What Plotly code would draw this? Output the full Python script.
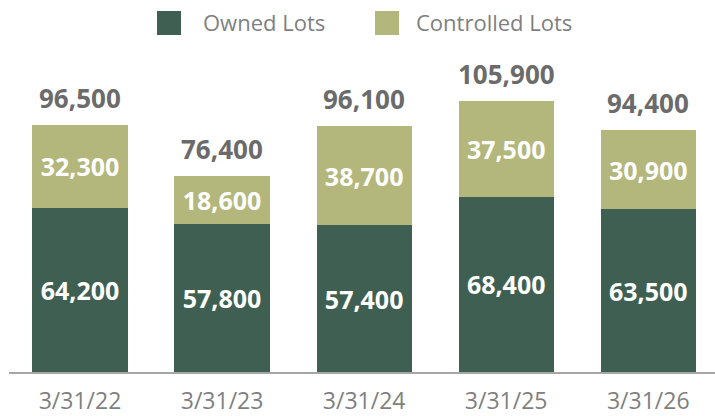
import plotly.graph_objects as go

categories = ["3/31/22", "3/31/23", "3/31/24", "3/31/25", "3/31/26"]
owned = [64200, 57800, 57400, 68400, 63500]
controlled = [32300, 18600, 38700, 37500, 30900]
totals = [96500, 76400, 96100, 105900, 94400]
series_names = ["Owned Lots", "Controlled Lots"]

OWN_C = "#3F5F52"
CTL_C = "#B3B77B"
FONT = "Open Sans"

W, H = 715, 416
ML, MR, MT, MB = 9, 0, 50, 44


def fmt(v):
    return f"{v:,}"


def px_x(p):
    return (p - ML) / (W - ML - MR)


def px_y(p):
    return (H - MB - p) / (H - MT - MB)


fig = go.Figure()
fig.add_bar(x=categories, y=owned, marker_color=OWN_C, name=series_names[0],
            text=[fmt(v) for v in owned], textposition="inside",
            insidetextanchor="middle",
            textfont=dict(family=FONT, size=25, color="white", weight="bold"),
            marker_line_width=0, showlegend=False)
fig.add_bar(x=categories, y=controlled, marker_color=CTL_C, name=series_names[1],
            text=[fmt(v) for v in controlled], textposition="inside",
            insidetextanchor="middle",
            textfont=dict(family=FONT, size=25, color="white", weight="bold"),
            marker_line_width=0, showlegend=False)

for c, t in zip(categories, totals):
    fig.add_annotation(x=c, y=t, text=fmt(t), showarrow=False,
                       yanchor="middle", yshift=27,
                       font=dict(family=FONT, size=26, color="#6B6B6B", weight="bold"))

# manual legend (large square swatches)
legend_items = [(series_names[0], OWN_C, 157, 201), (series_names[1], CTL_C, 375, 414)]
for name, col, sx, tx in legend_items:
    fig.add_shape(type="rect", xref="paper", yref="paper",
                  x0=px_x(sx), x1=px_x(sx + 24), y0=px_y(35), y1=px_y(11),
                  fillcolor=col, line_width=0)
    fig.add_annotation(xref="paper", yref="paper", x=px_x(tx), y=px_y(22),
                       xanchor="left", yanchor="middle", text=name, showarrow=False,
                       font=dict(family=FONT, size=22, color="#7F7F7F"))

fig.update_layout(
    width=W, height=H,
    margin=dict(l=ML, r=MR, t=MT, b=MB, autoexpand=False),
    barmode="stack", bargap=0.33,
    plot_bgcolor="white", paper_bgcolor="white",
    showlegend=False,
    xaxis=dict(range=[-0.5, 4.47], showline=True, linecolor="#A6A6A6", linewidth=2,
               showgrid=False, ticks="", ticklabelstandoff=7, automargin=False,
               tickfont=dict(family=FONT, size=23, color="#7F7F7F")),
    yaxis=dict(range=[0, 125800], visible=False, showgrid=False, automargin=False),
)

fig.write_html("out.html", config={"displayModeBar": False},
               post_script="document.body.style.margin='0';document.body.style.overflow='hidden';")
